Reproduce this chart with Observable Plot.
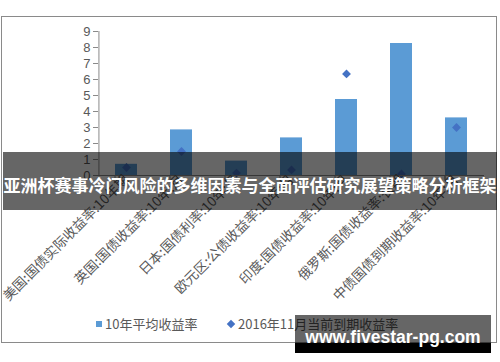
<!DOCTYPE html>
<html>
<head>
<meta charset="utf-8">
<script src="https://cdn.jsdelivr.net/npm/d3@7"></script>
<script src="https://cdn.jsdelivr.net/npm/@observablehq/plot@0.6"></script>
<style>
  html, body { margin: 0; padding: 0; background: #fff; }
  #wrap { position: relative; width: 500px; height: 362px; overflow: hidden; font-family: "Noto Sans CJK SC", sans-serif; }
  #frame { position: absolute; left: 1px; top: 16px; width: 496px; height: 327px; border: 1px solid #8a8a8a; box-sizing: border-box; pointer-events: none; }
  #chart { position: absolute; left: 0; top: 0; }
  #banner { position: absolute; left: 3px; top: 152px; width: 494px; height: 58px; background: rgba(0,0,0,0.6); }
  #title { position: absolute; left: 0; top: 173px; width: 500px; text-align: center; color: #fff; font-weight: bold; font-size: 17px; line-height: 24px; white-space: nowrap; }
  .leg { position: absolute; top: 315px; font-size: 13px; line-height: 18px; color: #595959; white-space: nowrap; }
  .sw { display: inline-block; width: 6px; height: 6px; background: #5b9bd5; margin-right: 3px; vertical-align: 2px; }
  .dm { display: inline-block; width: 6px; height: 6px; background: #4472c4; transform: rotate(45deg); margin-right: 4px; vertical-align: 2px; }
  #wm { position: absolute; left: 295px; top: 315px; width: 196px; height: 28px; background: rgba(0,0,0,0.6); }
  #wmb { position: absolute; left: 295px; top: 343px; width: 196px; height: 10px; background: #000; }
  #wmt { position: absolute; left: 295px; top: 327px; width: 196px; text-align: center; color: #fff; font-family: "Liberation Sans", sans-serif; font-weight: bold; font-size: 17.5px; line-height: 20px; white-space: nowrap; }
</style>
</head>
<body>
<div id="wrap">
  <div id="chart"></div>
  <div id="frame"></div>
  <div id="banner"></div>
  <div id="title"></div>
  <div class="leg" style="left:96px"><span class="sw"></span><span id="leg1"></span></div>
  <div class="leg" style="left:228px"><span class="dm"></span><span id="leg2"></span></div>
  <div id="wm"></div>
  <div id="wmb"></div>
  <div id="wmt"></div>
</div>
<script>
const categories = [
  "美国:国债实际收益率:10年期",
  "英国:国债收益率:10年:月",
  "日本:国债利率:10年:月",
  "欧元区:公债收益率:10年:月",
  "印度:国债收益率:10年:月",
  "俄罗斯:国债收益率:长期",
  "中债国债到期收益率:10年:月"
];
const avg10y = [0.7, 2.85, 0.9, 2.35, 4.75, 8.25, 3.6];
const current2016 = [0.5, 1.5, 0.15, 0.35, 6.35, 0.1, 3.0];
const yTicks = [0, 1, 2, 3, 4, 5, 6, 7, 8, 9];
const seriesNames = ["10年平均收益率", "2016年11月当前到期收益率"];
const titleText = "亚洲杯赛事冷门风险的多维因素与全面评估研究展望策略分析框架";
const watermark = "www.fivestar-pg.com";

const rows = categories.map((c, i) => ({cat: c, avg: avg10y[i], cur: current2016[i]}));
const axisColor = "#8a8a8a";
const step = (500 - 98 - 16) / categories.length;

const chart = Plot.plot({
  width: 500,
  height: 362,
  marginLeft: 98,
  marginRight: 16,
  marginTop: 31,
  marginBottom: 187,
  style: {fontFamily: "Liberation Sans, sans-serif", background: "transparent"},
  x: {domain: categories, paddingInner: 0.6, paddingOuter: 0.3, label: null},
  y: {domain: [0, 9], label: null},
  marks: [
    Plot.barY(rows, {x: "cat", y: "avg", fill: "#5b9bd5"}),
    Plot.dot(rows, {x: "cat", y: "cur", symbol: "diamond2", r: 4, fill: "#4472c4", stroke: "none"}),
    Plot.ruleY([0], {stroke: axisColor}),
    Plot.ruleX(categories.concat([categories[categories.length - 1]]), {
      x: d => d, dx: (d, i) => (i < categories.length ? -step / 2 : step / 2),
      y1: 0, y2: -0.3, stroke: axisColor
    }),
    Plot.axisY({ticks: yTicks, tickSize: 5, tickPadding: 3, fontSize: 13, fill: "#595959", stroke: axisColor, tickFormat: d => String(d)}),
    Plot.ruleX([categories[0]], {dx: -step / 2, y1: 0, y2: 9, stroke: axisColor}),
    Plot.axisX({tickRotate: -45, tickSize: 0, tickPadding: 2, fontSize: 13.5, fill: "#595959",
      fontFamily: "Noto Sans CJK SC, sans-serif"})
  ]
});
document.getElementById("chart").appendChild(chart);
document.getElementById("title").textContent = titleText;
document.getElementById("leg1").textContent = seriesNames[0];
document.getElementById("leg2").textContent = seriesNames[1];
document.getElementById("wmt").textContent = watermark;
</script>
</body>
</html>
